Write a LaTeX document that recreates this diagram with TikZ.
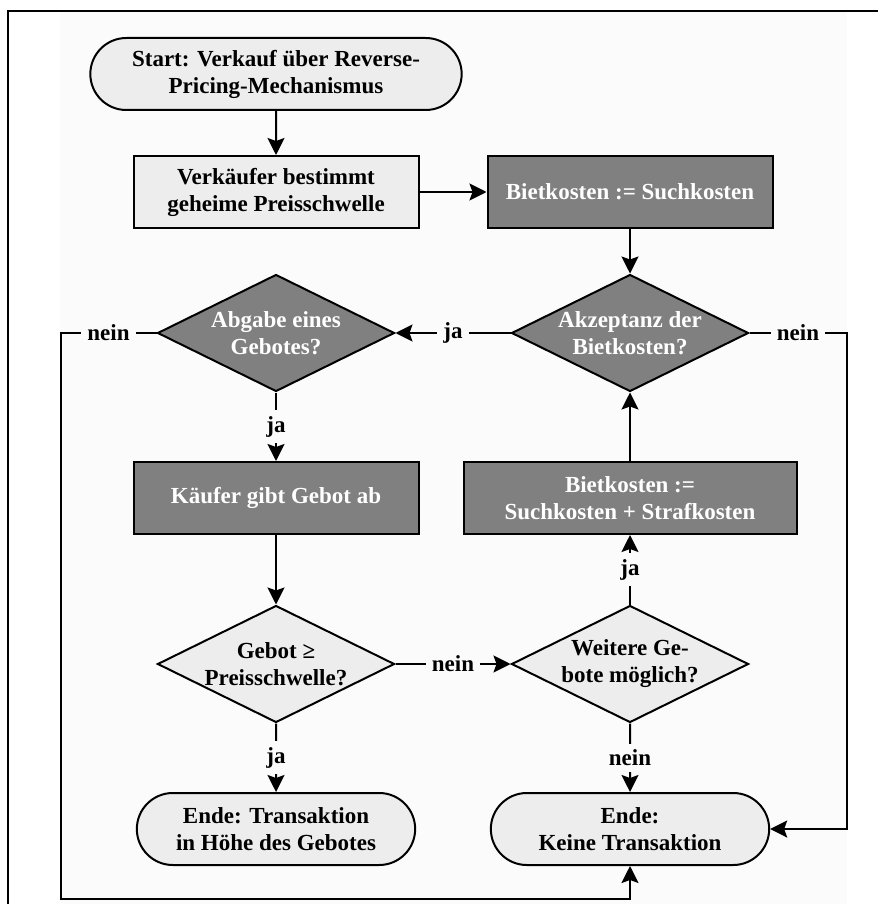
\documentclass[tikz,border=0pt]{standalone}
\usepackage{fontspec}
\setmainfont{Liberation Serif}
\usetikzlibrary{positioning,arrows.meta,shapes.misc,shapes.geometric}
\definecolor{panel}{gray}{0.985}
\definecolor{light}{gray}{0.93}
\definecolor{dark}{gray}{0.5}
\tikzset{
flow/.style={
    >={Stealth[length=17pt,width=17pt,inset=3pt]},
    line width=2pt,
    font=\fontsize{23}{27}\selectfont\bfseries,
    x=1pt,
    y=-1pt
},
terminal/.style={
    rounded rectangle,
    draw,
    align=center,
    minimum width=285pt,
    minimum height=72pt,
    fill=light
},
process/.style={
    rectangle,
    draw,
    align=center,
    minimum width=285pt,
    minimum height=72pt,
    fill=light
},
action/.style={
    process,
    fill=dark,
    text=white
},
decision/.style={
    diamond,
    draw,
    align=center,
    aspect=2.03,
    inner sep=0pt,
    minimum width=237pt,
    minimum height=117pt,
    fill=light
},
query/.style={
    decision,
    fill=dark,
    text=white
},
lbl/.style={
    fill=panel,
    inner sep=6pt
},
goes/.style={
    ->
}}

\begin{document}
\begin{tikzpicture}[flow]
\useasboundingbox (0,0) rectangle (878,904);
\fill[panel] (60,12) rectangle (847,904);
\draw[line width=1.6pt] (8,904) -- (8,11) -- (878,11);

\node[terminal, minimum width=378pt] (start) at (276,74) {Start: Verkauf über Reverse-\\Pricing-Mechanismus};
\node[process]  (verk)    [node distance=118pt, below of = start]   {Verkäufer bestimmt\\geheime Preisschwelle};
\node[action]   (biet)    [node distance=354pt, right of = verk]    {Bietkosten := Suchkosten};
\node[query]    (abgabe)  [node distance=141pt, below of = verk]    {Abgabe eines\\Gebotes?};
\node[query]    (akz)     [node distance=141pt, below of = biet]    {Akzeptanz der\\Bietkosten?};
\node[action]   (kaeufer) [node distance=165pt, below of = abgabe]  {Käufer gibt Gebot ab};
\node[action, minimum width=333pt] (straf) [node distance=165pt, below of = akz] {Bietkosten :=\\Suchkosten + Strafkosten};
\node[decision] (gebot)   [node distance=166pt, below of = kaeufer] {Gebot ≥\\Preisschwelle?};
\node[decision] (weitere) [node distance=166pt, below of = straf]   {Weitere Ge-\\bote möglich?};
\node[terminal] (endet)   [node distance=165pt, below of = gebot]   {Ende: Transaktion\\in Höhe des Gebotes};
\node[terminal] (keine)   [node distance=165pt, below of = weitere] {Ende:\\Keine Transaktion};

\path    (start)    edge[goes]    (verk);
\path    (verk)     edge[goes]    (biet);
\path    (biet)     edge[goes]    (akz);
\path    (kaeufer)  edge[goes]    (gebot);
\path    (straf)    edge[goes]    (akz);

\draw[goes]    (akz)     -- node[lbl] {ja}   (abgabe);
\draw[goes]    (abgabe)  -- node[lbl] {ja}   (kaeufer);
\draw[goes]    (gebot)   -- node[lbl] {nein} (weitere);
\draw[goes]    (gebot)   -- node[lbl] {ja}   (endet);
\draw[goes]    (weitere) -- node[lbl] {nein} (keine);
\draw[goes]    (weitere) -- node[lbl] {ja}   (straf);

% loops back to the end without transaction
\draw[goes]    (abgabe.west) -- node[lbl] {nein} ++(-96,0) |- ([yshift=-33pt]keine.south) -- (keine.south);
\draw[goes]    (akz.east)    -- node[lbl] {nein} ++(97,0)  |- (keine.east);
\end{tikzpicture}
\end{document}
